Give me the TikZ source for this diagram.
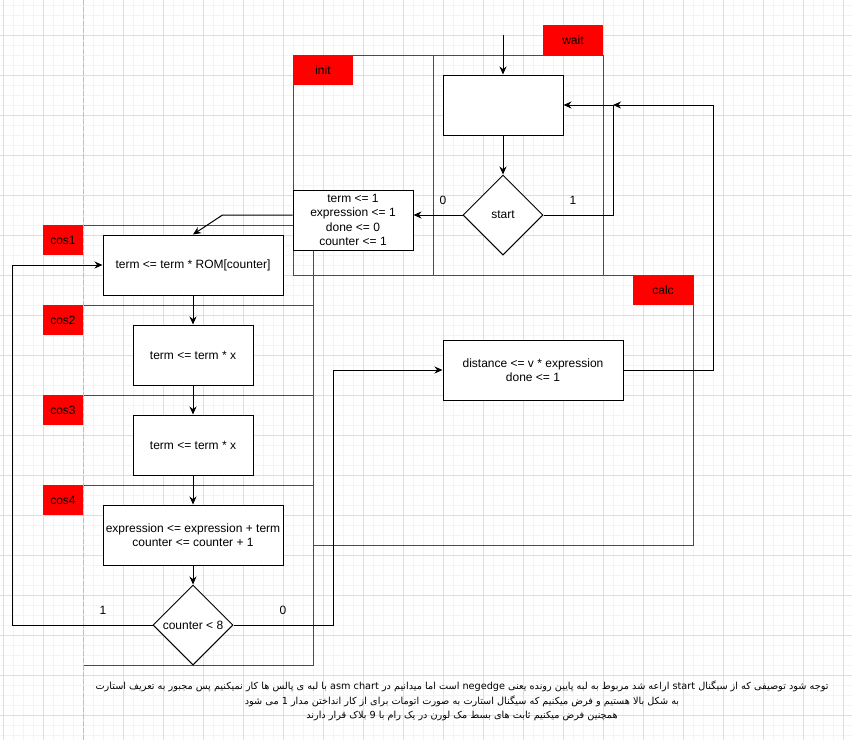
\documentclass[tikz,border=0pt]{standalone}
\usepackage{fontspec}
\setmainfont{Liberation Sans}
\newfontfamily\farsi[Script=Arabic]{DejaVu Sans}
\TeXXeTstate=1
\usetikzlibrary{shapes.geometric,arrows.meta}
\definecolor{tagred}{RGB}{255,0,0}
\definecolor{gridlo}{RGB}{244,244,244}
\definecolor{gridhi}{RGB}{222,222,222}
\definecolor{pagebrk}{RGB}{190,190,190}

\begin{document}
\begin{tikzpicture}[x=1pt,y=-1pt,
  every node/.style={font=\fontsize{12}{14.5}\selectfont},
  box/.style={draw,line width=1pt,fill=white,minimum height=60,inner sep=0pt,align=center},
  wbox/.style={box,minimum width=180},
  nbox/.style={box,minimum width=120},
  dec/.style={diamond,draw,line width=1pt,fill=white,aspect=1,inner sep=0pt,
              minimum width=80,minimum height=80},
  frm/.style={draw=tagred,line width=1pt,xshift=0.5pt,yshift=-0.5pt},
  tag/.style={fill=tagred,inner sep=0pt,minimum height=30,minimum width=60},
  ln/.style={line width=1pt},
  ar/.style={ln,-{Stealth[length=8pt,width=7pt]}}]

\useasboundingbox (0,0) rectangle (852,740);
% grid
\foreach \x in {3,13,...,843} \draw[gridlo] (\x,0) -- (\x,740);
\foreach \y in {5,15,...,735} \draw[gridlo] (0,\y) -- (852,\y);
\foreach \x in {3,43,...,843} \draw[gridhi] (\x,0) -- (\x,740);
\foreach \y in {35,75,...,715} \draw[gridhi] (0,\y) -- (852,\y);
\draw[pagebrk,line width=1pt,dash pattern=on 5pt off 2pt] (83,0) -- (83,740);

% state frames
\draw[frm] (293,55) rectangle (433,275);
\draw[frm] (433,55) rectangle (603,275);
\draw[frm] (313,275) rectangle (693,545);
\foreach \a/\b in {225/305,305/395,395/485,485/665}
  \draw[frm] (83,\a) -| (313,\b) -- (83,\b);

\node[tag] (tw) at (573,40) {wait};
\node[tag] (ti) at (323,70) {init};
\node[tag] (tc) at (663,290) {calc};
\foreach \i/\y in {1/240,2/320,3/410,4/500}
  \node[tag,minimum width=40] (t\i) at (63,\y) {cos\i};

% states
\node[nbox] (wt) at (503,105) {};
\node[dec] (st) at (503,215) {start};
\node[nbox] (ini) at (353,220) {term <= 1\\expression <= 1\\done <= 0\\counter <= 1};
\node[wbox] (c1) at (193,265) {term <= term * ROM[counter]};
\node[nbox] (c2) at (193,355) {term <= term * x};
\node[nbox] (c3) at (193,445) {term <= term * x};
\node[wbox] (c4) at (193,535) {expression <= expression + term\\counter <= counter + 1};
\node[dec] (cnt) at (193,625) {counter < 8};
\node[wbox] (cl) at (533,370) {distance <= v * expression\\done <= 1};

\node (s0) at (443,200) {0};
\node (s1) at (573,200) {1};
\node (k1) at (103,610) {1};
\node (k0) at (283,610) {0};

% connectors
\coordinate (src) at (503,35);
\coordinate (jn) at (613,105);
\draw[ar] (src) -- (wt);
\draw[ar] (wt) -- (st);
\draw[ar] (st.east) -| (jn) -- (wt.east);
\draw[ar] (cl.east) -- ++(90,0) |- (jn);
\draw[ar] (st.west) -- (st.west -| ini.east);
\draw[ar] (st.west -| ini.west) -- ++(-70,0) -- (c1.north);
\foreach \a/\b in {c1/c2,c2/c3,c3/c4,c4/cnt}
  \draw[ar] (\a) -- (\b);
\draw[ar] (cnt.west) -- ++(-140,0) |- (c1.west);
\draw[ar] (cnt.east) -- ++(100,0) |- (cl.west);

% note
\node[align=center,font=\farsi\fontsize{9.7}{14.5}\selectfont] (note) at (462,701)
  {\beginR توجه شود توصیفی که از سیگنال start اراعه شد مربوط به لبه پایین رونده یعنی negedge است اما میدانیم در \beginL asm chart\endL{}  با لبه ی پالس ها کار نمیکنیم پس مجبور به تعریف استارت\endR\\
   \beginR به شکل بالا هستیم و فرض میکنیم که سیگنال استارت به صورت اتومات برای از کار انداختن مدار 1 می شود\endR\\
   \beginR همچنین فرض میکنیم ثابت های بسط مک لورن در یک رام با 9 بلاک قرار دارند\endR};
\end{tikzpicture}
\end{document}
